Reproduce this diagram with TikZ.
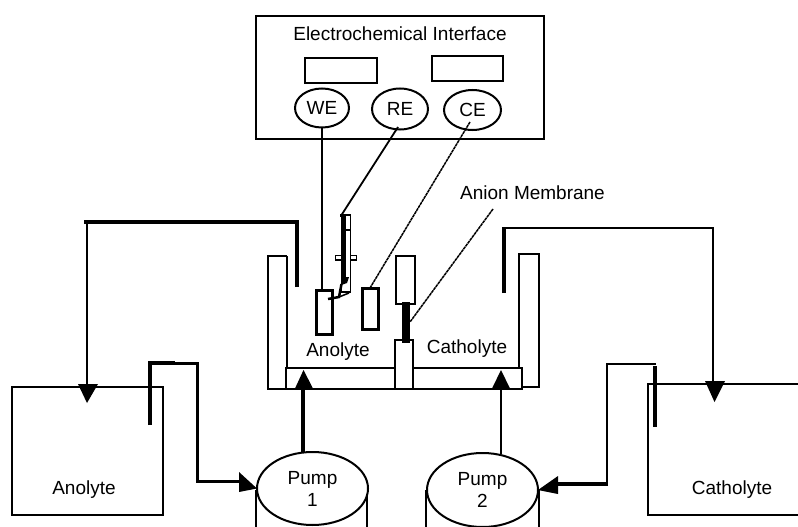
\documentclass[tikz,border=0pt]{standalone}
\usepackage{fontspec}
\setmainfont{Liberation Sans}
\usetikzlibrary{shapes.geometric}
\tikzset{
  x=1pt,y=-1pt,
  thinline/.style={draw=black,line width=2pt},
  box/.style={draw=black,line width=2pt,fill=white,inner sep=0pt,outer sep=0pt},
  terminal/.style={ellipse,draw=black,line width=2pt,fill=white,inner sep=0pt,outer sep=0pt,font=\fontsize{19}{21}\selectfont},
  pumphead/.style={ellipse,draw=black,line width=2pt,fill=white,inner sep=0pt,outer sep=0pt,align=center,font=\fontsize{19}{22}\selectfont},
  lbl/.style={inner sep=0pt,font=\fontsize{19}{21}\selectfont},
  wire/.style={draw=black,line width=1.5pt},
  pipea/.style={draw=black,line width=2.2pt,line cap=butt,line join=miter},
  pipeb/.style={draw=black,line width=4pt,line cap=butt,line join=miter},
  headtip/.style={fill=black,draw=none},
}
\begin{document}
\begin{tikzpicture}
\useasboundingbox (0,0) rectangle (798,527);
% --- interface
\node[box,minimum width=288pt,minimum height=122pt,anchor=north west] (iface) at (255.5,16.5) {};
\node[lbl] (ifacetext) at (400,34) {Electrochemical Interface};
\node[box,minimum width=72pt,minimum height=25pt] (disp1) at (341,70.5) {};
\node[box,minimum width=71pt,minimum height=25pt] (disp2) at (467.5,68.5) {};
\node[terminal,minimum width=54pt,minimum height=39pt] (we) at (322,108) {WE};
\node[terminal,minimum width=56pt,minimum height=41pt] (re) at (400,109) {RE};
\node[terminal,minimum width=57pt,minimum height=40pt] (ce) at (472.5,110) {CE};
% --- tank
\coordinate (tl1) at (268,256);
\coordinate (tl2) at (287,256);
\coordinate (tr1) at (519,254);
\coordinate (tr2) at (539,254);
\draw[thinline] (tl2) -- (tl1) -- (268,388.5) -- (522,388.5);
\draw[thinline] (tl2) -- (287,368);
\draw[thinline] (519,368) -- (tr1) -- (tr2) -- (539,387) -- (522,387);
\node[box,draw=black,minimum width=236pt,minimum height=20.5pt,anchor=north west,fill=none] (floor) at (286,368) {};
\node[box,minimum width=18pt,minimum height=49pt,anchor=north west] (column) at (395,340) {};
\node[box,minimum width=19pt,minimum height=48pt,anchor=north west] (upper) at (396,256) {};
\node[fill=black,inner sep=0pt,minimum width=7.5pt,minimum height=41pt,anchor=north west] (membrane) at (402,302) {};
% --- electrodes
\node[box,line width=3pt,minimum width=16pt,minimum height=44pt,anchor=north west] (elw) at (316,290) {};
\node[box,line width=3pt,minimum width=16pt,minimum height=41pt,anchor=north west] (elc) at (362,288) {};
% --- reference electrode
\node[box,line width=1.5pt,minimum width=21pt,minimum height=4.5pt,anchor=north west] (cross) at (335.5,255.5) {};
\node[box,line width=1.5pt,minimum width=9pt,minimum height=77pt,anchor=north west] (refel) at (341.5,215) {};
\coordinate (refbr) at (349,293);
\fill[black] (341.5,215) rectangle (345.5,279);
\fill[black] (340,214) rectangle (346,217);
\fill[black] (341.5,277) -- (349,277) -- (347,283) -- (341.5,285) -- cycle;
\draw[wire] (345,230) -- (350,230);
\coordinate (wirewe) at (328,299);
\draw[draw=black,line width=2.5pt] (wirewe) -- (339,297) -- (341.5,284);
\draw[wire] (339,297) -- (refbr);
% --- connectors from instrument
\draw[wire] (we.south) -- (elw.north -| we.south);
\draw[draw=black,line width=1.8pt] (398,127) -- (refel.north west);
\draw[draw=black,line width=1.5pt,dash pattern=on 3pt off .6pt] (470,122) -- (elc.north);
\coordinate (ambot) at (410,322);
\node[lbl] (amtext) at (532.5,193) {Anion Membrane};
\coordinate (amtop) at (493,209);
\draw[draw=black,line width=1.5pt,dash pattern=on 3pt off .6pt] (amtop) -- (ambot);
% --- tank labels
\node[lbl] (anotank) at (338,352) {Anolyte};
\node[lbl] (cattank) at (467,349) {Catholyte};
% --- storage vessels
\node[box,minimum width=151pt,minimum height=128pt,anchor=north west] (anobox) at (12,387) {};
\node[lbl] (anolabel) at (84,490) {Anolyte};
\draw[thinline] (798,384) -- (648,384) -- (648,515) -- (798,515);
\coordinate (catbox) at (648,384);
\node[lbl] (catlabel) at (732,490) {Catholyte};
% --- pumps
\draw[thinline] (255.5,490) -- (255.5,527);
\draw[thinline] (367,490) -- (367,527);
\draw[thinline] (426,490) -- (426,527);
\draw[thinline] (539,490) -- (539,527);
\node[pumphead,minimum width=111pt,minimum height=73pt] (pump1) at (312.5,488.5) {Pump\\[0pt]1};
\node[pumphead,minimum width=111pt,minimum height=74pt] (pump2) at (482.5,490) {Pump\\[0pt]2};
% --- anolyte return
\coordinate (a1) at (297,287);
\coordinate (a2) at (297,222);
\coordinate (a3) at (87,222);
\coordinate (a4) at (87,388);
\draw[draw=black,line width=4pt] (a1) -- (297,220.5);
\draw[draw=black,line width=3.5pt] (298.5,222) -- (84,222);
\draw[pipea] (a3) -- (a4);
\fill[headtip] (78,384) -- (98,384) -- (87,403) -- cycle;
% --- anolyte to pump 1
\coordinate (b1) at (150,425);
\draw[pipeb] (b1) -- (150,363) -- (175,363);
\draw[draw=black,line width=3pt] (150,363) -- (197,363) -- (197,481) -- (240,481);
\fill[headtip] (239,472) -- (239,492) -- (pump1.west) -- cycle;
% --- pump 1 to tank
\draw[draw=black,line width=3.5pt] (303,452.5) -- (303,385);
\fill[headtip] (295,388.5) -- (313,388.5) -- (303.5,370) -- cycle;
% --- pump 2 to tank
\draw[pipea] (500.7,453.5) -- (500.7,385);
\fill[headtip] (492,388.5) -- (510,388.5) -- (501,370) -- cycle;
% --- catholyte return
\draw[draw=black,line width=4pt] (504,293) -- (504,227);
\draw[pipea] (502,228) -- (713,228) -- (713,385);
\fill[headtip] (705,381) -- (725,381) -- (714.5,402) -- cycle;
% --- catholyte to pump 2
\draw[draw=black,line width=3.5pt] (655,366) -- (655,427);
\draw[pipea] (656,364) -- (607,364) -- (607,484);
\draw[draw=black,line width=3.5pt] (608,484) -- (556,484);
\fill[headtip] (558,476) -- (558,494) -- (pump2.east) -- cycle;
\end{tikzpicture}
\end{document}
